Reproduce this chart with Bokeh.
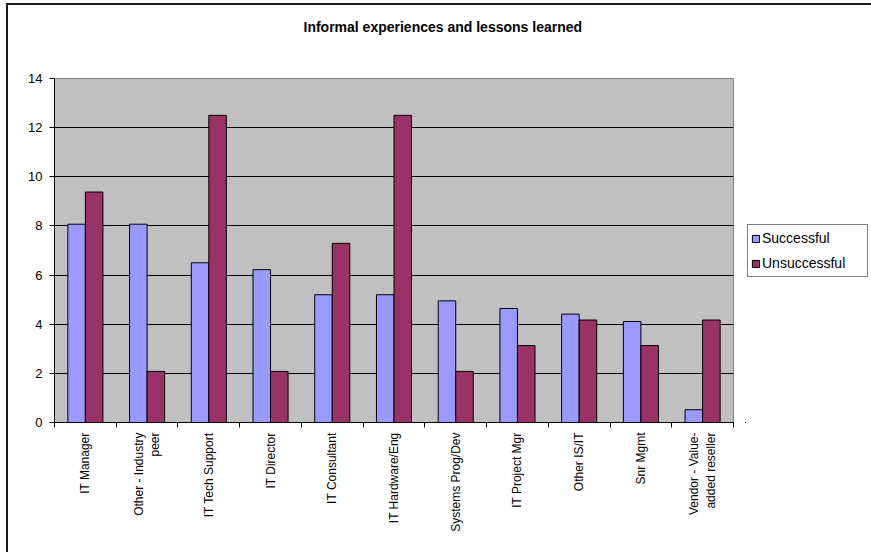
import math
from bokeh.plotting import figure
from bokeh.layouts import row
from bokeh.models import (ColumnDataSource, Range1d, FixedTicker, Legend, LegendItem,
                          InlineStyleSheet, Title)
from bokeh.transform import dodge
from bokeh.embed import file_html
from bokeh.resources import INLINE

categories = ["IT Manager", "Other - Industry\npeer", "IT Tech Support", "IT Director",
              "IT Consultant", "IT Hardware/Eng", "Systems Prog/Dev", "IT Project Mgr",
              "Other IS/IT", "Snr Mgmt", "Vendor - Value-\nadded reseller"]
successful = [8.07, 8.07, 6.50, 6.22, 5.20, 5.20, 4.95, 4.64, 4.41, 4.11, 0.52]
unsuccessful = [9.38, 2.08, 12.50, 2.08, 7.29, 12.50, 2.08, 3.13, 4.17, 3.13, 4.17]
series_names = ["Successful", "Unsuccessful"]
series_colors = ["#9999FF", "#993366"]
y_ticks = [0, 2, 4, 6, 8, 10, 12, 14]

idx = list(range(len(categories)))
src = ColumnDataSource(dict(x=idx, s=successful, u=unsuccessful))

FONT = "Liberation Sans"

p = figure(width=745, height=552, output_backend="svg", toolbar_location=None,
           x_range=Range1d(-0.5, len(categories) - 0.5), y_range=Range1d(0, 14),
           min_border_left=54, min_border_right=12, min_border_top=78, min_border_bottom=130,
           title="Informal experiences and lessons learned")

p.background_fill_color = "#C0C0C0"
p.border_fill_color = "white"
p.outline_line_color = "#808080"
p.outline_line_width = 1

# spacer between the plot area and the title
p.add_layout(Title(text=" ", text_font_size="14px", standoff=26), "above")

p.title.align = "left"
p.title.offset = 249
p.title.text_font = FONT
p.title.text_font_size = "14px"
p.title.text_font_style = "bold"
p.title.text_color = "black"
p.title.standoff = 0

bw = 0.284
rs = p.vbar(x=dodge("x", -bw / 2, range=p.x_range), top="s", width=bw, source=src,
            fill_color=series_colors[0], line_color="black", line_width=1)
ru = p.vbar(x=dodge("x", bw / 2, range=p.x_range), top="u", width=bw, source=src,
            fill_color=series_colors[1], line_color="black", line_width=1)

# grid
p.xgrid.visible = False
p.ygrid.ticker = FixedTicker(ticks=y_ticks)
p.ygrid.grid_line_color = "black"
p.ygrid.grid_line_width = 1

# y axis
ya = p.yaxis[0]
ya.ticker = FixedTicker(ticks=y_ticks)
ya.major_tick_in = 0
ya.major_tick_out = 5
ya.minor_tick_out = 0
ya.minor_tick_in = 0
ya.axis_line_color = "black"
ya.major_tick_line_color = "black"
ya.major_label_text_font = FONT
ya.major_label_text_font_size = "13px"
ya.major_label_text_color = "black"
ya.major_label_standoff = 7

# x axis: labels at category centres, ticks between categories
xa = p.xaxis[0]
xa.ticker = FixedTicker(ticks=idx, minor_ticks=[i - 0.5 for i in range(len(categories) + 1)])
xa.major_label_overrides = {i: c for i, c in zip(idx, categories)}
xa.major_label_orientation = math.pi / 2
xa.major_tick_in = 0
xa.major_tick_out = 0
xa.minor_tick_in = 0
xa.minor_tick_out = 5
xa.minor_tick_line_color = "black"
xa.axis_line_color = "black"
xa.major_label_text_font = FONT
xa.major_label_text_font_size = "12px"
xa.major_label_text_color = "black"
xa.major_label_standoff = 5

# legend panel to the right of the chart (its own ranges keep the key glyphs' bars out of view)
lp = figure(width=126, height=552, output_backend="svg", toolbar_location=None,
            x_axis_type=None, y_axis_type=None,
            x_range=Range1d(100, 101), y_range=Range1d(100, 101),
            min_border_left=0, min_border_right=0, min_border_top=0, min_border_bottom=0)
lp.outline_line_color = None
lp.background_fill_color = "white"
lp.border_fill_color = "white"
lp.xgrid.visible = False
lp.ygrid.visible = False
lrs = [lp.vbar(x="x", top=col, width=bw, source=src, fill_color=c, line_color="black")
       for col, c in zip(["s", "u"], series_colors)]

legend = Legend(items=[LegendItem(label=n, renderers=[r]) for n, r in zip(series_names, lrs)],
                location=(2, 145), orientation="vertical")
legend.margin = 0
legend.padding = 3
legend.spacing = 5
legend.border_line_color = "black"
legend.border_line_width = 1
legend.background_fill_color = "white"
legend.background_fill_alpha = 1
legend.label_text_font = FONT
legend.label_text_font_size = "14px"
legend.label_text_color = "black"
legend.glyph_width = 9
legend.glyph_height = 9
legend.label_height = 20
legend.label_width = 102
legend.label_standoff = 2
lp.add_layout(legend, "center")

layout = row(p, lp, spacing=0)
layout.stylesheets = [InlineStyleSheet(css=(
    ":host { position: relative; }"
    ":host::before { content: ''; position: absolute; left: 6px; top: 3px; right: 0; bottom: 0;"
    " border-top: 2px solid #1a1a1a; border-left: 2px solid #1a1a1a;"
    " pointer-events: none; z-index: 10; }"))]

open("out.html", "w").write(file_html(layout, INLINE))
